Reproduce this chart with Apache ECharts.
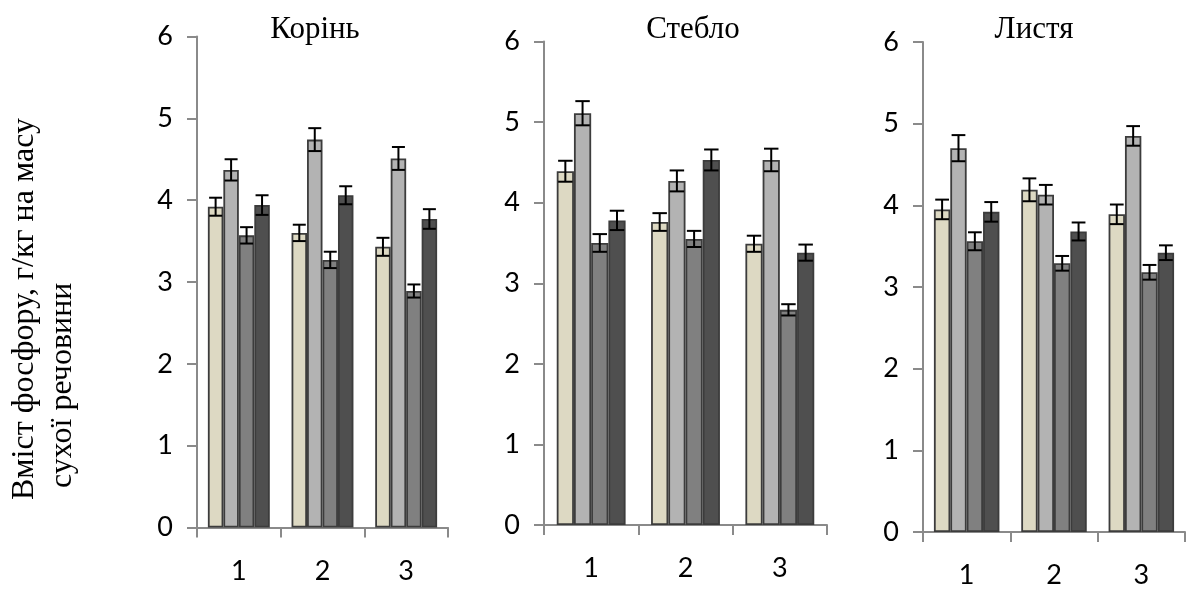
<!DOCTYPE html>
<html>
<head>
<meta charset="utf-8">
<script src="https://cdn.jsdelivr.net/npm/echarts@6/dist/echarts.min.js"></script>
<style>
  html, body { margin: 0; padding: 0; background: #fff; }
  #chart { width: 1186px; height: 590px; }
</style>
</head>
<body>
<div id="chart"></div>
<script>
// categories on the x axis of every panel
const categories = ['1', '2', '3'];
const panelTitles = ['Корінь', 'Стебло', 'Листя'];
const yTitleLine1 = 'Вміст фосфору, г/кг на масу';
const yTitleLine2 = 'сухої речовини';

// values: one array per bar series (4 series), one value per category
const rootValues = [[3.92, 3.60, 3.43], [4.37, 4.74, 4.51], [3.57, 3.27, 2.89], [3.94, 4.06, 3.77]];
const rootErrors = [[0.11, 0.10, 0.11], [0.13, 0.14, 0.14], [0.10, 0.10, 0.08], [0.12, 0.11, 0.12]];

const stemValues = [[4.39, 3.76, 3.49], [5.11, 4.27, 4.53], [3.50, 3.55, 2.67], [3.78, 4.53, 3.38]];
const stemErrors = [[0.13, 0.11, 0.10], [0.15, 0.13, 0.14], [0.11, 0.10, 0.07], [0.12, 0.13, 0.10]];

const leafValues = [[3.95, 4.19, 3.89], [4.70, 4.13, 4.85], [3.56, 3.29, 3.18], [3.92, 3.68, 3.42]];
const leafErrors = [[0.12, 0.14, 0.12], [0.16, 0.12, 0.12], [0.11, 0.09, 0.09], [0.12, 0.11, 0.09]];

const panelValues = [rootValues, stemValues, leafValues];
const panelErrors = [rootErrors, stemErrors, leafErrors];

const barColors = ['#ddd9c3', '#b3b3b3', '#808080', '#4f4f4f'];
const axisColor = '#8a8a8a';
const numFont = 'Lato, sans-serif';

// pixel layout of each panel
const layout = [
  { left: 197, top: 36.5, width: 251, height: 491, titleX: 310, gap: 0.26 },
  { left: 544, top: 41.5, width: 283, height: 483.5, titleX: 688, gap: 0.27 },
  { left: 923, top: 42, width: 262, height: 490, titleX: 1029, gap: 0.25 }
];

const chart = echarts.init(document.getElementById('chart'));

function makeErrRender(gap) {
  return function (params, api) {
    const cat = api.value(0);
    const j = api.value(3);
    const catW = api.size([1, 0])[0];
    const barW = catW * (1 - gap) / 4;
    const cx = api.coord([cat, 0])[0] - 2 * barW + barW * (j + 0.5);
    const yTop = api.coord([cat, api.value(2)])[1];
    const yBot = api.coord([cat, api.value(1)])[1];
    const hw = barW * 0.42;
    const st = { stroke: '#000', lineWidth: 2 };
    return {
      type: 'group',
      children: [
        { type: 'line', shape: { x1: cx, y1: yTop, x2: cx, y2: yBot }, style: st },
        { type: 'line', shape: { x1: cx - hw, y1: yTop, x2: cx + hw, y2: yTop }, style: st },
        { type: 'line', shape: { x1: cx - hw, y1: yBot, x2: cx + hw, y2: yBot }, style: st }
      ]
    };
  };
}

const grids = [], xAxes = [], yAxes = [], titles = [], series = [];

layout.forEach((g, p) => {
  grids.push({ left: g.left, top: g.top, width: g.width, height: g.height });
  titles.push({
    text: panelTitles[p],
    left: g.titleX,
    top: 9,
    textAlign: 'center',
    textStyle: { fontFamily: 'Liberation Serif', fontSize: 31, fontWeight: 'normal', color: '#000' }
  });
  xAxes.push({
    type: 'category',
    gridIndex: p,
    data: categories,
    axisLine: { lineStyle: { color: axisColor, width: 2 } },
    axisTick: { show: true, length: 10, interval: 0, lineStyle: { color: axisColor, width: 2 } },
    axisLabel: { margin: 30, fontFamily: numFont, fontSize: 27, color: '#000' }
  });
  yAxes.push({
    type: 'value',
    gridIndex: p,
    min: 0,
    max: 6,
    interval: 1,
    splitLine: { show: false },
    axisLine: { show: true, lineStyle: { color: axisColor, width: 2 } },
    axisTick: { show: true, length: 10, lineStyle: { color: axisColor, width: 2 } },
    axisLabel: { margin: 24, fontFamily: numFont, fontSize: 27, color: '#000' }
  });

  const vals = panelValues[p];
  const errs = panelErrors[p];
  vals.forEach((arr, j) => {
    series.push({
      type: 'bar',
      xAxisIndex: p,
      yAxisIndex: p,
      data: arr,
      barGap: '0%',
      barCategoryGap: (g.gap * 100) + '%',
      animation: false,
      itemStyle: { color: barColors[j], borderColor: '#3c3c3c', borderWidth: 1.8 }
    });
  });

  const errData = [];
  vals.forEach((arr, j) => {
    arr.forEach((v, c) => {
      errData.push([c, v - errs[j][c], v + errs[j][c], j]);
    });
  });
  series.push({
    type: 'custom',
    xAxisIndex: p,
    yAxisIndex: p,
    z: 10,
    animation: false,
    renderItem: makeErrRender(g.gap),
    data: errData
  });
});

const yTitleStyle = { fontFamily: 'Liberation Serif', fontSize: 32, fill: '#000', align: 'left', verticalAlign: 'middle' };

chart.setOption({
  backgroundColor: '#fff',
  title: titles,
  grid: grids,
  xAxis: xAxes,
  yAxis: yAxes,
  series: series,
  graphic: [
    { type: 'text', x: 25, y: 500, rotation: Math.PI / 2, style: Object.assign({ text: yTitleLine1 }, yTitleStyle) },
    { type: 'text', x: 63, y: 488, rotation: Math.PI / 2, style: Object.assign({ text: yTitleLine2 }, yTitleStyle) }
  ]
});
</script>
</body>
</html>
